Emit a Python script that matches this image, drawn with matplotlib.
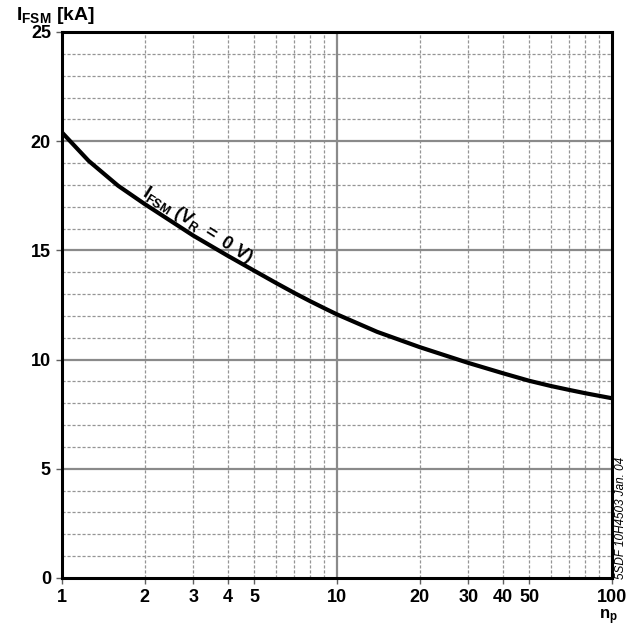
import matplotlib
matplotlib.use("Agg")
import matplotlib.pyplot as plt
from matplotlib.ticker import FixedLocator, NullFormatter

plt.rcParams['font.family'] = 'Liberation Sans'
plt.rcParams['font.weight'] = 'bold'
plt.rcParams['mathtext.fontset'] = 'custom'
plt.rcParams['mathtext.rm'] = 'Liberation Sans'
plt.rcParams['mathtext.bf'] = 'Liberation Sans:bold'
plt.rcParams['mathtext.it'] = 'Liberation Sans:bold'
plt.rcParams['mathtext.default'] = 'bf'

# surge current vs number of pulses
n_pulses = [1, 1.25, 1.6, 2, 3, 4, 5, 6, 7, 8, 9, 10, 14, 20, 30, 40, 50, 60, 70, 80, 100]
i_fsm = [20.4, 19.1, 17.96, 17.12, 15.68, 14.76, 14.07, 13.51, 13.05, 12.67, 12.35, 12.07,
         11.27, 10.57, 9.85, 9.38, 9.03, 8.79, 8.61, 8.46, 8.23]

x_ticks = [1, 2, 3, 4, 5, 10, 20, 30, 40, 50, 100]
x_ticklabels = ["1", "2", "3", "4", "5", "10", "20", "30", "40", "50", "100"]
y_ticks = [0, 5, 10, 15, 20, 25]

fig = plt.figure(figsize=(6.38, 6.27), dpi=100)
ax = fig.add_axes([62 / 638, 49 / 627, 550 / 638, 546 / 627])

ax.set_xscale('log')
ax.set_xlim(1, 100)
ax.set_ylim(0, 25)

# grid: solid at decades / every 5 kA, dashed in between
minor_x = [k * d for d in (1, 10) for k in range(2, 10)]
for xv in minor_x:
    ax.axvline(xv, color='#959595', lw=0.9, ls=(0, (2.5, 1.5)), zorder=1)
for yv in range(1, 25):
    if yv % 5:
        ax.axhline(yv, color='#959595', lw=0.9, ls=(0, (2.5, 1.5)), zorder=1)
ax.axvline(10, color='#8a8a8a', lw=1.6, zorder=1)
for yv in [5, 10, 15, 20]:
    ax.axhline(yv, color='#8a8a8a', lw=1.6, zorder=1)

ax.plot(n_pulses, i_fsm, color='black', lw=3.0, zorder=3,
        solid_capstyle='butt', solid_joinstyle='round')

ax.set_xticks(x_ticks)
ax.set_xticklabels(x_ticklabels)
ax.xaxis.set_minor_locator(FixedLocator([]))
ax.xaxis.set_minor_formatter(NullFormatter())
ax.set_yticks(y_ticks)
ax.tick_params(axis='both', labelsize=13, length=4, width=1, direction='out', color='#606060')
ax.tick_params(axis='x', pad=4)
ax.tick_params(axis='y', pad=4)
for lbl in ax.get_xticklabels() + ax.get_yticklabels():
    lbl.set_fontweight('bold')

for side in ['left', 'right', 'bottom', 'top']:
    ax.spines[side].set_linewidth(2.2)
    ax.spines[side].set_color('black')

ax.text(2.97, 15.75, r'$\mathrm{I_{FSM}\ (V_R\ =\ 0\ V)}$', rotation=-32.5, fontsize=13,
        ha='center', va='bottom', rotation_mode='anchor', zorder=4)

fig.text(16 / 638, 1 - 20 / 627, r'$I_{FSM}$ [kA]', fontsize=14, fontweight='bold',
         ha='left', va='baseline')
fig.text(599 / 638, 1 - 619 / 627, r'$n_p$', fontsize=12, ha='left', va='baseline')
fig.text(621 / 638, 1 - 579 / 627, '5SDF 10H4503 Jan. 04', rotation=90, fontsize=8.5,
         fontstyle='italic', fontweight='normal', ha='center', va='bottom')

fig.savefig('out.png', dpi=100)
